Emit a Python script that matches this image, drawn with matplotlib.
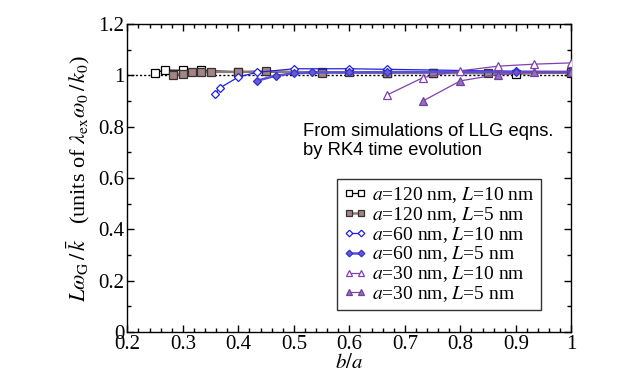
import matplotlib
matplotlib.use("Agg")
import matplotlib.pyplot as plt
from matplotlib.ticker import MultipleLocator, FuncFormatter

plt.rcParams['font.family'] = ['Liberation Serif', 'DejaVu Serif']
plt.rcParams['mathtext.fontset'] = 'stix'

# a=120 nm
b120_L10 = [0.25, 0.267, 0.30, 0.333, 0.40, 0.55, 0.667, 0.75, 0.90, 1.0]
v120_L10 = [1.010, 1.021, 1.020, 1.020, 1.014, 1.012, 1.010, 1.010, 1.006, 1.010]
b120_L5 = [0.283, 0.30, 0.317, 0.333, 0.35, 0.40, 0.45, 0.55, 0.60, 0.667, 0.75, 0.85, 1.0]
v120_L5 = [1.001, 1.005, 1.013, 1.014, 1.014, 1.014, 1.016, 1.011, 1.012, 1.010, 1.010, 1.009, 1.012]
# a=60 nm
b60_L10 = [0.358, 0.367, 0.40, 0.433, 0.50, 0.60, 0.667, 0.90, 1.0]
v60_L10 = [0.928, 0.952, 0.994, 1.012, 1.026, 1.026, 1.024, 1.016, 1.015]
b60_L5 = [0.433, 0.467, 0.50, 0.533, 0.60, 0.667, 0.90, 1.0]
v60_L5 = [0.979, 0.999, 1.008, 1.012, 1.012, 1.013, 1.014, 1.014]
# a=30 nm
b30_L10 = [0.667, 0.733, 0.80, 0.867, 0.933, 1.0]
v30_L10 = [0.923, 0.992, 1.018, 1.036, 1.044, 1.049]
b30_L5 = [0.733, 0.80, 0.867, 0.933, 1.0]
v30_L5 = [0.901, 0.979, 1.003, 1.014, 1.014]

labels = [r'$a$=120 nm, $L$=10 nm', r'$a$=120 nm, $L$=5 nm',
          r'$a$=60 nm, $L$=10 nm', r'$a$=60 nm, $L$=5 nm',
          r'$a$=30 nm, $L$=10 nm', r'$a$=30 nm, $L$=5 nm']

fig = plt.figure(figsize=(6.37, 3.83), dpi=100)
ax = fig.add_axes([0.2, 0.133, 0.697, 0.804])

ax.plot([0.2, 1.0], [1.0, 1.0], color='black', linestyle=(0, (1.5, 1.5)), lw=1.0, zorder=1)

ax.plot(b120_L10, v120_L10, color='black', lw=0.9, marker='s', ms=5.5,
        mfc='white', mec='black', mew=0.9, label=labels[0], zorder=3)
ax.plot(b120_L5, v120_L5, color='#8a7a7a', lw=1.8, marker='s', ms=5.5,
        mfc='#a08686', mec='#3a3030', mew=0.9, label=labels[1], zorder=3)
ax.plot(b60_L10, v60_L10, color='#2020e0', lw=0.9, marker='D', ms=4.5,
        mfc='white', mec='#2020e0', mew=0.9, label=labels[2], zorder=4)
ax.plot(b60_L5, v60_L5, color='#5a50d8', lw=1.8, marker='D', ms=4.5,
        mfc='#6a5ad0', mec='#3030d0', mew=0.9, label=labels[3], zorder=4)
ax.plot(b30_L10, v30_L10, color='#8040b0', lw=0.9, marker='^', ms=6,
        mfc='white', mec='#8040b0', mew=0.9, label=labels[4], zorder=5)
ax.plot(b30_L5, v30_L5, color='#8040b0', lw=0.9, marker='^', ms=6,
        mfc='#9070c0', mec='#7040a0', mew=0.9, label=labels[5], zorder=5)

ax.set_xlim(0.2, 1.0)
ax.set_ylim(0, 1.2)
ax.xaxis.set_major_locator(MultipleLocator(0.1))
ax.xaxis.set_minor_locator(MultipleLocator(0.02))
ax.yaxis.set_major_locator(MultipleLocator(0.2))
ax.yaxis.set_minor_locator(MultipleLocator(0.1))
fmt = FuncFormatter(lambda v, p: ('%.1f' % v).rstrip('0').rstrip('.') if abs(v) > 1e-9 else '0')
ax.xaxis.set_major_formatter(fmt)
ax.yaxis.set_major_formatter(fmt)
ax.tick_params(which='both', direction='in', top=True, right=True, labelsize=15, pad=2)
ax.tick_params(which='major', length=5, width=1)
ax.tick_params(which='minor', length=3, width=1)
for s in ax.spines.values():
    s.set_linewidth(1.0)

ax.set_xlabel(r'$b/a$', fontsize=15, labelpad=0)
ax.set_ylabel(r'$L\omega_{\rm G}\,/\,\bar{k}$   (units of $\lambda_{\rm ex}\omega_0\,/\,k_0$)',
              fontsize=16, labelpad=5)

ax.text(0.396, 0.68, 'From simulations of LLG eqns.\nby RK4 time evolution',
        transform=ax.transAxes, fontsize=13.2, family='Liberation Sans',
        va='top', ha='left', linespacing=1.15)

leg = ax.legend(loc='upper left', bbox_to_anchor=(0.473, 0.496), fontsize=14,
                frameon=True, fancybox=False, edgecolor='black', handlelength=1.2,
                numpoints=2, handletextpad=0.3, labelspacing=0.0, borderpad=0.3,
                borderaxespad=0, markerscale=0.75)
leg.get_frame().set_linewidth(1.0)

fig.savefig('out.png', dpi=100)
